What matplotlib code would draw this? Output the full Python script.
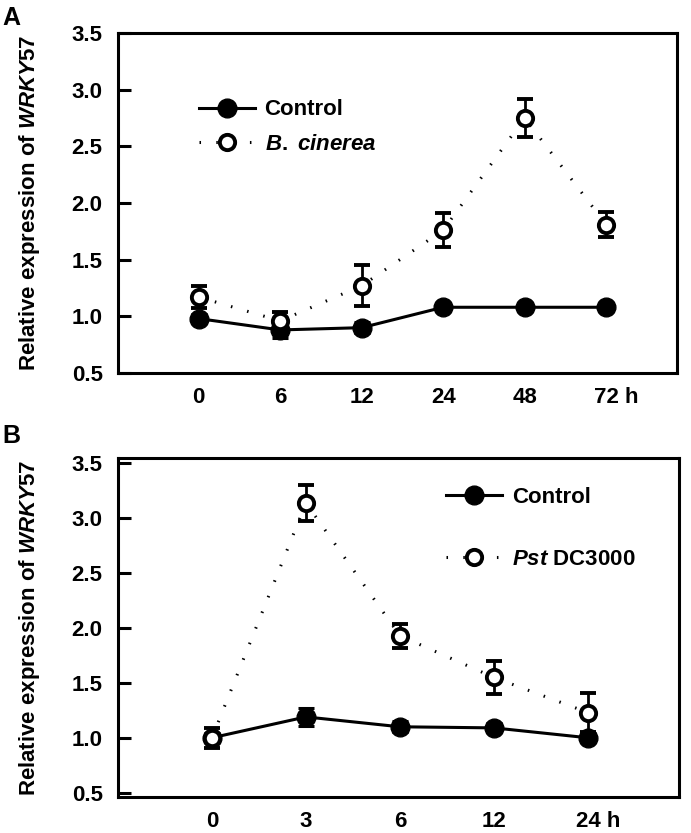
import matplotlib
matplotlib.use('Agg')
import numpy as np
from matplotlib import pyplot as plt
from matplotlib.lines import Line2D
from matplotlib.transforms import ScaledTranslation

plt.rcParams['font.family'] = ['Liberation Sans', 'DejaVu Sans']
plt.rcParams['font.weight'] = 'bold'
plt.rcParams['mathtext.fontset'] = 'custom'
plt.rcParams['mathtext.it'] = 'Liberation Sans:italic:bold'
plt.rcParams['mathtext.rm'] = 'Liberation Sans:bold'

# panel A: B. cinerea time course
a_times = ['0', '6', '12', '24', '48', '72 h']
a_ctrl = [0.98, 0.88, 0.90, 1.08, 1.08, 1.08]
a_ctrl_err = [0.04, 0.07, 0.05, 0.03, 0.03, 0.03]
a_bc = [1.17, 0.96, 1.27, 1.76, 2.75, 1.81]
a_bc_err = [0.10, 0.08, 0.18, 0.15, 0.17, 0.11]

# panel B: Pst DC3000 time course
b_times = ['0', '3', '6', '12', '24 h']
b_ctrl = [1.00, 1.19, 1.10, 1.09, 1.00]
b_ctrl_err = [0.04, 0.08, 0.05, 0.04, 0.04]
b_pst = [1.00, 3.14, 1.93, 1.55, 1.23]
b_pst_err = [0.09, 0.16, 0.11, 0.15, 0.18]

W, H = 691, 833
fig = plt.figure(figsize=(W / 100, H / 100), dpi=100)

DOTS = (0, (0.5, 5))


def panel(rect, times, ctrl, ctrl_err, trt, trt_err, trt_label, ylim, xlim,
          leg_anchor, leg_spacing):
    ax = fig.add_axes(rect)
    x = np.arange(len(times))
    ax.errorbar(x, ctrl, yerr=ctrl_err, color='black', lw=2.2, marker='o',
                ms=13.5, mfc='black', mec='black', capsize=6, elinewidth=2.0,
                capthick=2.2, zorder=3)
    ax.errorbar(x, trt, yerr=trt_err, color='black', lw=2.2,
                ls=DOTS, marker='o', ms=11, mfc='white',
                mec='black', mew=2.8, capsize=6, elinewidth=2.0,
                capthick=2.2, zorder=4)
    ax.set_ylim(*ylim)
    ax.set_xlim(*xlim)
    ax.set_yticks([0.5, 1.0, 1.5, 2.0, 2.5, 3.0, 3.5])
    ax.set_xticks(x)
    ax.set_xticklabels(times)
    ax.tick_params(axis='y', direction='in', length=9, width=2.2, pad=11,
                   left=True, right=False, labelsize=16)
    ax.tick_params(axis='x', length=0, pad=10, labelsize=16)
    last = ax.get_xticklabels()[-1]
    last.set_transform(last.get_transform() +
                       ScaledTranslation(10 / 100, 0, fig.dpi_scale_trans))
    for sp in ax.spines.values():
        sp.set_linewidth(2.2)

    handles = [
        Line2D([], [], color='black', lw=2.2, marker='o', ms=13.5,
               mfc='black', mec='black'),
        Line2D([], [], color='black', lw=2.2, ls=DOTS, marker='o',
               ms=11, mfc='white', mec='black', mew=2.8),
    ]
    ax.legend(handles, ['Control', trt_label], loc='upper left',
              bbox_to_anchor=leg_anchor, frameon=False, fontsize=16,
              handlelength=2.5, handletextpad=0.45, borderpad=0,
              borderaxespad=0, labelspacing=leg_spacing)
    return ax


panel([118 / W, 1 - 373 / H, 559 / W, 340 / H], a_times, a_ctrl, a_ctrl_err,
      a_bc, a_bc_err, r'$\it{B.}$ $\it{cinerea}$', (0.5, 3.5), (-0.99, 5.87),
      (0.145, 0.805), 0.6)
panel([118 / W, 1 - 797 / H, 561 / W, 339 / H], b_times, b_ctrl, b_ctrl_err,
      b_pst, b_pst_err, r'$\it{Pst}$ DC3000', (0.46, 3.55), (-1.0, 4.97),
      (0.585, 0.915), 1.85)

ylab = r'Relative expression of $\it{WRKY57}$'
fig.text(30 / W, 1 - 203 / H, ylab, rotation=90, ha='center', va='center',
         fontsize=16, fontweight='bold')
fig.text(30 / W, 1 - 628 / H, ylab, rotation=90, ha='center', va='center',
         fontsize=16, fontweight='bold')
fig.text(2 / W, 1 - 6 / H, 'A', ha='left', va='top', fontsize=18,
         fontweight='bold')
fig.text(2 / W, 1 - 424 / H, 'B', ha='left', va='top', fontsize=18,
         fontweight='bold')

fig.savefig('out.png', dpi=100)
